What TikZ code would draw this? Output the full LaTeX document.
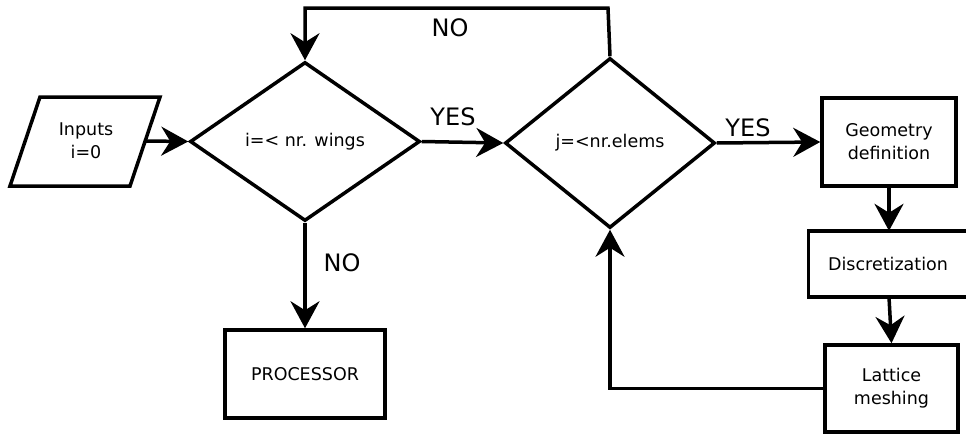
\documentclass[tikz,border=0pt]{standalone}
\usepackage{fontspec}
\setmainfont{DejaVu Sans}
\usetikzlibrary{shapes.geometric,arrows.meta}
\begin{document}
\begin{tikzpicture}[x=1pt,y=-1pt,
  lw/.style={line width=3.5pt},
  txt/.style={font=\fontsize{17.5}{23}\selectfont},
  box/.style={draw,lw,rectangle,inner sep=0pt,align=center,txt},
  dia/.style={draw,lw,diamond,inner sep=0pt,txt},
  lbl/.style={font=\fontsize{24}{27}\selectfont,inner sep=0pt},
  arr/.style={lw,-{Stealth[length=27pt,width=29pt,inset=9pt]}}]
\useasboundingbox (0,0) rectangle (966,434);
% Inputs parallelogram
\draw[lw,line join=miter] (10,186) -- (40,97) -- (160,97) -- (130,186) -- cycle;
\node[align=center,txt] (in) at (86,141) {Inputs\\i=0};
\coordinate (inr) at (145,141);
% diamonds
\node[dia,minimum width=230pt,minimum height=159pt] (d1) at (305,141.5) {i=< nr. wings};
\node[dia,minimum width=210pt,minimum height=170pt] (d2) at (610,143) {j=<nr.elems};
% boxes
\node[box,minimum width=134pt,minimum height=88pt] (geo) at (889,142) {Geometry\\definition};
\node[inner sep=0pt,minimum width=159pt,minimum height=66pt,txt] (disc) at (888,264) {Discretization};
\draw[lw] (disc.north east) -- (disc.north west) -- (disc.south west) -- (disc.south east);
\node[box,minimum width=133pt,minimum height=87pt] (lat) at (891.5,388.5) {Lattice\\meshing};
\node[box,minimum width=160pt,minimum height=88pt] (proc) at (305,374) {PROCESSOR};
% connectors
\draw[arr] (inr) -- (d1.west);
\draw[arr] (d1.east) -- (d2.west);
\draw[arr] (d2.east) -- (geo.west);
\draw[arr] (d1.south) -- (proc.north);
\draw[arr] (geo.south) -- (geo.south |- disc.north);
\draw[arr] (disc.south -| geo.south) -- (lat.north);
\draw[arr] (lat.west) -| (d2.south);
\coordinate (top) at (608,8);
\draw[arr] (d2.north) -- (top) -| (d1.north);
% labels
\node[lbl] (yes1) at (453,117) {YES};
\node[lbl] (yes2) at (748,128) {YES};
\node[lbl] (no1) at (450,28) {NO};
\node[lbl] (no2) at (342,263) {NO};
\end{tikzpicture}
\end{document}
